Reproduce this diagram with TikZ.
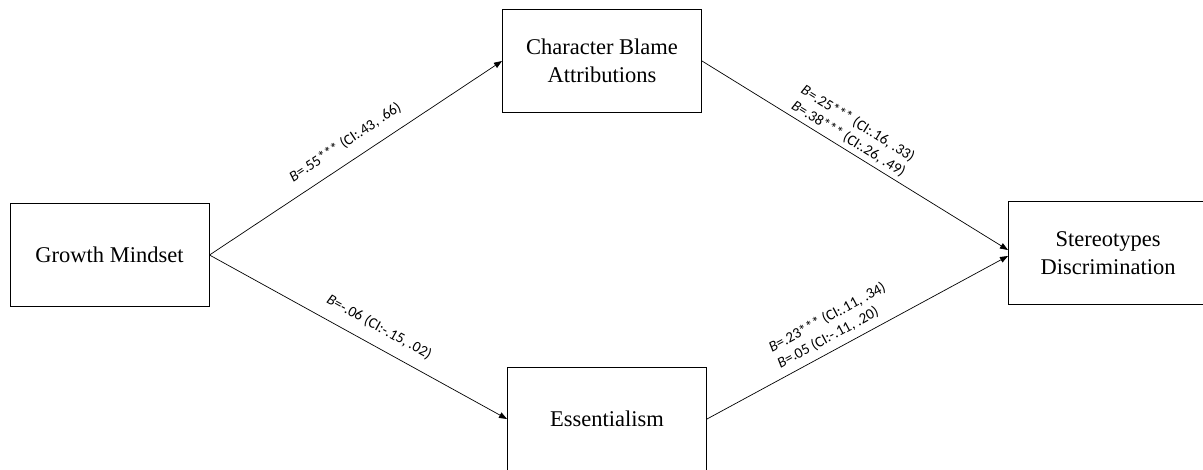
\documentclass[tikz,border=0pt]{standalone}
\usepackage{fontspec}
\setmainfont{Liberation Serif}
\newfontfamily\lblfont{Carlito}
\usetikzlibrary{arrows.meta}
\tikzset{
  varbox/.style={draw,line width=1pt,minimum width=199pt,minimum height=103pt,
    align=center,font=\fontsize{22.5}{27.5}\selectfont},
  patharr/.style={line width=0.7pt,-{Triangle[length=8pt,width=6pt]}},
  coef/.style={sloped,align=left,inner sep=2pt,font=\lblfont\fontsize{15}{18}\selectfont}
}
\begin{document}
\begin{tikzpicture}[x=1pt,y=-1pt]
  \useasboundingbox (0,0) rectangle (1203,469);
  % variables
  \node[varbox] (gm)  at (109.5,255) {Growth Mindset};
  \node[varbox] (cba) at (602,61)    {Character Blame\\Attributions};
  \node[varbox] (ess) at (607,419)   {Essentialism};
  \node[varbox] (sd)  at (1108,253)  {Stereotypes\\Discrimination};
  % paths with coefficients
  \draw[patharr] (gm.east) -- (cba.west)
    node[coef,pos=0.5,above=10pt] {{\itshape B}=.55*** (CI:.43, .66)};
  \draw[patharr] (gm.east) -- (ess.west)
    node[coef,pos=0.54,above=10pt] {{\itshape B}=-.06 (CI:-.15, .02)};
  \draw[patharr] (cba.east) -- ([yshift=3pt]sd.west)
    node[coef,pos=0.46,above=2pt] {{\itshape B}=.25*** (CI:.16, .33)\\{\itshape B}=.38*** (CI:.26, .49)};
  \draw[patharr] (ess.east) -- ([yshift=-3pt]sd.west)
    node[coef,pos=0.45,above=5pt] {{\itshape B}=.23*** (CI:.11, .34)\\{\itshape B}=.05 (CI:-.11, .20)};
\end{tikzpicture}
\end{document}
